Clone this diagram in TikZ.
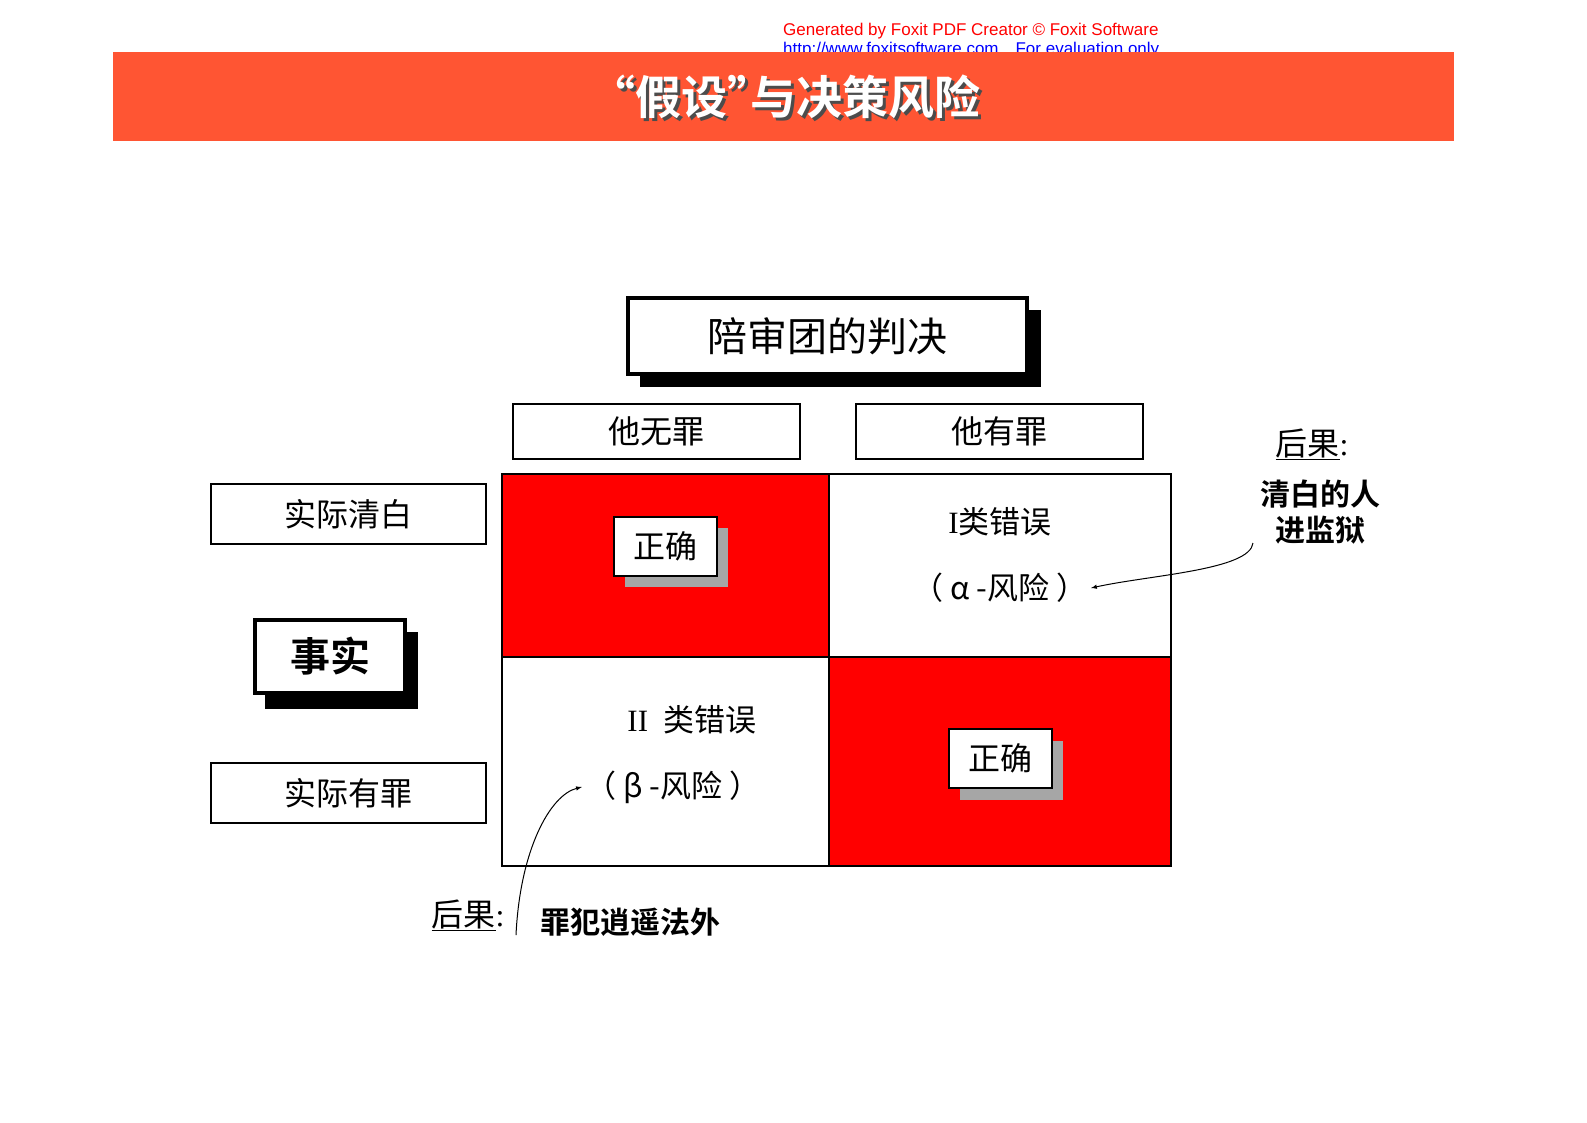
\documentclass[tikz,border=0pt]{standalone}
\usepackage{fontspec}
\setmainfont{Liberation Serif}
\newfontfamily\cjk{Noto Sans CJK SC}
\newfontfamily\cjkb{Noto Sans CJK SC Bold}
\newfontfamily\lsans{Liberation Sans}
\definecolor{banner}{HTML}{FF5533}
\begin{document}
\begin{tikzpicture}[x=1pt,y=-1pt,
  lbl/.style={draw,line width=1.2pt,fill=white,inner sep=0pt,font=\cjk\fontsize{32}{36}\selectfont},
  cell/.style={draw,line width=1.5pt},
  ok/.style={draw,line width=1.2pt,fill=white,minimum width=103pt,minimum height=59pt,inner sep=0pt,font=\cjk\fontsize{32}{36}\selectfont},
  txt/.style={font=\cjk\fontsize{31}{34}\selectfont},
  arr/.style={-latex,line width=1pt}]
\fill[white] (0,0) rectangle (1587,1122);
% foxit
\node[anchor=west,text=red,font=\lsans\fontsize{17}{18}\selectfont,inner sep=0pt] (fx1) at (783,31) {Generated by Foxit PDF Creator © Foxit Software};
\node[anchor=west,text=blue,font=\lsans\fontsize{17}{18}\selectfont,inner sep=0pt] (fx2) at (783,50) {http://www.foxitsoftware.com\quad For evaluation only.};
% banner
\fill[banner] (113,52) rectangle (1454,141);
\node[text=gray!60!black,font=\cjkb\fontsize{46}{50}\selectfont] at (788,100) {“假设”\kern-0.5em 与决策风险};
\node[text=white,font=\cjkb\fontsize{46}{50}\selectfont] (title) at (785,97) {“假设”\kern-0.5em 与决策风险};
% verdict
\fill[black] (640,310) rectangle (1041,387);
\node[draw,line width=4pt,fill=white,minimum width=399pt,minimum height=76pt,inner sep=0pt,font=\cjk\fontsize{40}{44}\selectfont] (verdict) at (827.5,336) {陪审团的判决};
\node[lbl,minimum width=287pt,minimum height=55pt] (inn) at (656.5,431.5) {他无罪};
\node[lbl,minimum width=287pt,minimum height=55pt] (gui) at (999.5,431.5) {他有罪};
% grid
\fill[red] (502,474) rectangle (829,657);
\fill[red] (829,657) rectangle (1171,866);
\draw[cell] (502,474) rectangle (1171,866);
\draw[cell] (829,474) -- (829,866);
\draw[cell] (502,657) -- (1171,657);
\fill[gray!70] (625,528) rectangle (728,587);
\node[ok] (ok1) at (665.5,546.5) {正确};
\fill[gray!70] (960,741) rectangle (1063,800);
\node[ok] (ok2) at (1000.5,758.5) {正确};
\node[txt] (e1) at (1000,522) {\rmfamily I\cjk 类错误};
\node[txt] (a1) at (1000,588) {（ α -风险 ）};
\node[txt] (e2) at (692,720) {\rmfamily II\ \ \cjk 类错误};
\node[txt] (b1) at (673,787) {（ β -风险 ）};
% left
\node[lbl,minimum width=275pt,minimum height=60pt] (ci) at (348.5,514) {实际清白};
\node[lbl,minimum width=275pt,minimum height=60pt] (cg) at (348.5,793) {实际有罪};
\fill[black] (265,632) rectangle (418,709);
\node[draw,line width=4pt,fill=white,minimum width=150pt,minimum height=73pt,inner sep=0pt,font=\cjkb\fontsize{40}{44}\selectfont] (fact) at (330,656.5) {事实};
% right consequence
\node[font=\fontsize{32}{36}\selectfont] (hg1) at (1312,444) {\underline{\cjk 后果}:};
\node[font=\cjkb\fontsize{30}{36}\selectfont,align=center] (q1) at (1320,512) {清白的人\\进监狱};
\coordinate (s1) at (1253,543);
\draw[arr] (s1) .. controls (1250,570) and (1150,575) .. (a1.east);
% bottom consequence
\node[font=\fontsize{32}{36}\selectfont] (hg2) at (468,915) {\underline{\cjk 后果}:};
\node[font=\cjkb\fontsize{30}{34}\selectfont] (q2) at (630,922) {罪犯逍遥法外};
\coordinate (s2) at (516,935);
\draw[arr] (s2) .. controls (520,850) and (550,795) .. (b1.west);
\pgfresetboundingbox
\path[use as bounding box] (0,0) rectangle (1587,1122);
\end{tikzpicture}
\end{document}
